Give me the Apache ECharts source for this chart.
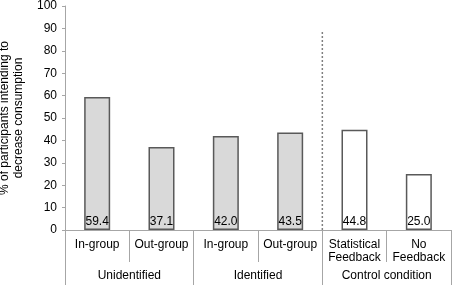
<!DOCTYPE html>
<html>
<head>
<meta charset="utf-8">
<script src="https://cdn.jsdelivr.net/npm/echarts@6/dist/echarts.min.js"></script>
<style>
  html, body { margin: 0; padding: 0; background: #fff; }
  #chart { width: 454px; height: 287px; }
</style>
</head>
<body>
<div id="chart"></div>
<script>
const categories = ["In-group", "Out-group", "In-group", "Out-group", "Statistical\nFeedback", "No\nFeedback"];
const groups = ["Unidentified", "Identified", "Control condition"];
const values = [59.4, 37.1, 42.0, 43.5, 44.8, 25.0];
const isControl = [false, false, false, false, true, true];
// dashed separator: between category 4 and 5, up to ~89
const dividerAt = 4;
const dividerTop = 89;

const font = "Liberation Sans, Arial, sans-serif";
const axisGray = "#a6a6a6";

const chart = echarts.init(document.getElementById("chart"));

chart.setOption({
  animation: false,
  grid: { left: 65, right: 3, top: 6, bottom: 57, outerBoundsMode: "none", containLabel: false },
  xAxis: [
    {
      type: "category",
      data: categories,
      axisLine: { show: true, lineStyle: { color: axisGray } },
      axisTick: { show: true, interval: 0, alignWithLabel: false, length: 32, lineStyle: { color: axisGray } },
      axisLabel: {
        color: "#000", fontFamily: font, fontSize: 12,
        interval: 0, margin: 8, verticalAlign: "top", lineHeight: 13
      }
    },
    {
      type: "category",
      data: groups,
      position: "bottom",
      axisLine: { show: false },
      axisTick: { show: true, interval: 0, alignWithLabel: false, length: 55, lineStyle: { color: axisGray } },
      axisLabel: {
        color: "#000", fontFamily: font, fontSize: 12,
        interval: 0, margin: 40
      }
    },
    {
      type: "value",
      min: 0, max: 6,
      show: false
    }
  ],
  yAxis: {
    type: "value",
    min: 0, max: 100, interval: 10,
    name: "% of participants intending to\ndecrease consumption",
    nameLocation: "middle",
    nameGap: 32,
    nameTextStyle: { color: "#000", fontFamily: font, fontSize: 12, lineHeight: 14 },
    axisLine: { show: true, lineStyle: { color: axisGray } },
    axisTick: { show: true, length: 3, lineStyle: { color: axisGray } },
    splitLine: { show: false },
    axisLabel: { color: "#000", fontFamily: font, fontSize: 12, margin: 8 }
  },
  series: [
    {
      type: "bar",
      xAxisIndex: 0,
      barWidth: 26,
      data: values.map((v, i) => ({
        value: v,
        itemStyle: {
          color: isControl[i] ? "#ffffff" : "#d9d9d9",
          borderColor: "#595959",
          borderWidth: 1.5
        }
      })),
      label: {
        show: true,
        position: "insideBottom",
        distance: 2,
        color: "#000",
        fontFamily: font,
        fontSize: 12,
        formatter: p => p.value.toFixed(1)
      }
    },
    {
      type: "line",
      xAxisIndex: 2,
      data: [[dividerAt, 0], [dividerAt, dividerTop]],
      symbol: "none",
      silent: true,
      lineStyle: { color: "#7f7f7f", width: 1.5, type: [2, 2] }
    }
  ]
});
</script>
</body>
</html>
